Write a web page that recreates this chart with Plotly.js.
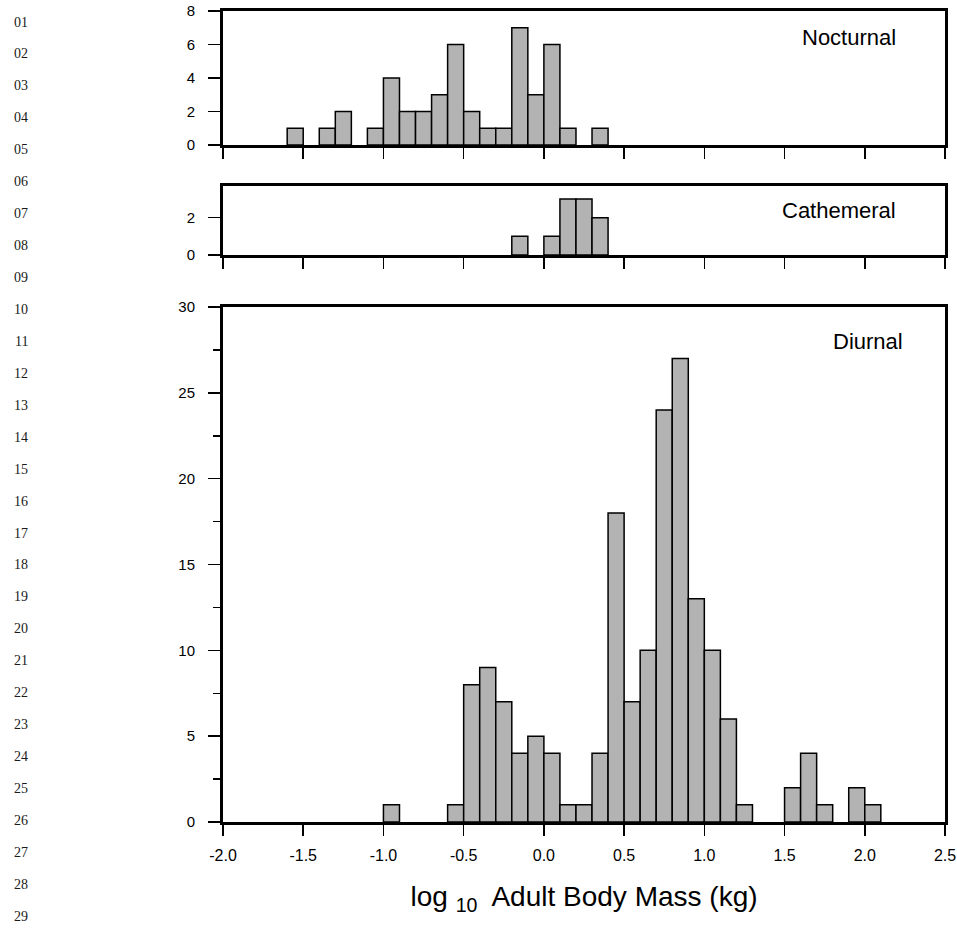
<!DOCTYPE html>
<html>
<head>
<meta charset="utf-8">
<script src="https://cdn.plot.ly/plotly-3.0.1.min.js"></script>
<style>
  html, body { margin: 0; padding: 0; background: #ffffff; }
  #chart { width: 957px; height: 928px; }
</style>
</head>
<body>
<div id="chart"></div>
<script>
// ---- data ----
const binCenters = [-1.55, -1.45, -1.35, -1.25, -1.15, -1.05, -0.95, -0.85, -0.75, -0.65,
                    -0.55, -0.45, -0.35, -0.25, -0.15, -0.05, 0.05, 0.15, 0.25, 0.35,
                    0.45, 0.55, 0.65, 0.75, 0.85, 0.95, 1.05, 1.15, 1.25, 1.35,
                    1.45, 1.55, 1.65, 1.75, 1.85, 1.95, 2.05];
const binWidth = 0.1;

const nocturnalCounts = [1, 0, 1, 2, 0, 1, 4, 2, 2, 3,
                         6, 2, 1, 1, 7, 3, 6, 1, 0, 1,
                         0, 0, 0, 0, 0, 0, 0, 0, 0, 0,
                         0, 0, 0, 0, 0, 0, 0];
const cathemeralCounts = [0, 0, 0, 0, 0, 0, 0, 0, 0, 0,
                          0, 0, 0, 0, 1, 0, 1, 3, 3, 2,
                          0, 0, 0, 0, 0, 0, 0, 0, 0, 0,
                          0, 0, 0, 0, 0, 0, 0];
const diurnalCounts = [0, 0, 0, 0, 0, 0, 1, 0, 0, 0,
                       1, 8, 9, 7, 4, 5, 4, 1, 1, 4,
                       18, 7, 10, 24, 27, 13, 10, 6, 1, 0,
                       0, 2, 4, 1, 0, 2, 1];

const panelNames = ['Nocturnal', 'Cathemeral', 'Diurnal'];
const xTickValues = [-2.0, -1.5, -1.0, -0.5, 0.0, 0.5, 1.0, 1.5, 2.0, 2.5];
const xTickLabels = ['-2.0', '-1.5', '-1.0', '-0.5', '0.0', '0.5', '1.0', '1.5', '2.0', '2.5'];
const nocturnalYTicks = [0, 2, 4, 6, 8];
const cathemeralYTicks = [0, 2];
const diurnalYTicks = [0, 5, 10, 15, 20, 25, 30];
const diurnalMinorYTicks = [2.5, 7.5, 12.5, 17.5, 22.5, 27.5];
const xTitle = 'log <sub>10</sub>  Adult Body Mass (kg)';
const lineNumbers = ['01','02','03','04','05','06','07','08','09','10',
                     '11','12','13','14','15','16','17','18','19','20',
                     '21','22','23','24','25','26','27','28','29'];

// ---- styling / layout ----
const W = 957, H = 928;
const M = {l: 223, r: 12, t: 11, b: 106};
const plotW = W - M.l - M.r;
const plotH = H - M.t - M.b;
const bottomPx = H - M.b;
function py(pxY) { return (bottomPx - pxY) / plotH; }
function px(pxX) { return (pxX - M.l) / plotW; }

const barStyle = {color: '#b3b3b3', line: {color: '#000000', width: 1.5}};
function barTrace(counts, xa, ya) {
  // empty bins are left out so no zero-height outline is drawn
  const xs = [], ys = [];
  counts.forEach((c, i) => { if (c > 0) { xs.push(binCenters[i]); ys.push(c); } });
  return {
    type: 'bar', x: xs, y: ys,
    width: xs.map(() => binWidth),
    marker: barStyle, xaxis: xa, yaxis: ya, hoverinfo: 'x+y'
  };
}

const data = [
  barTrace(diurnalCounts, 'x', 'y'),
  barTrace(cathemeralCounts, 'x2', 'y2'),
  barTrace(nocturnalCounts, 'x3', 'y3')
];

const fontFam = 'Liberation Sans, Arial, Helvetica, sans-serif';
function xAxis(anchor, showLabels) {
  return {
    anchor: anchor, domain: [0, 1], range: [-2, 2.5],
    tickmode: 'array', tickvals: xTickValues, ticktext: xTickLabels,
    ticks: 'outside', ticklen: 11, tickwidth: 1.5, tickcolor: '#000',
    showticklabels: showLabels, ticklabelstandoff: 6,
    showline: true, linewidth: 3, linecolor: '#000', mirror: true,
    showgrid: false, zeroline: false, fixedrange: true,
    tickfont: {family: fontFam, size: 16, color: '#000'}
  };
}
function yAxis(anchor, domain, range, ticks) {
  return {
    anchor: anchor, domain: domain, range: range,
    tickmode: 'array', tickvals: ticks, ticktext: ticks.map(String),
    ticks: 'outside', ticklen: 12, tickwidth: 1.5, tickcolor: '#000',
    ticklabelstandoff: 10,
    showline: true, linewidth: 3, linecolor: '#000', mirror: true,
    showgrid: false, zeroline: false, fixedrange: true,
    tickfont: {family: fontFam, size: 15, color: '#000'}
  };
}

const xa1 = xAxis('y', true);
xa1.title = {text: xTitle, font: {family: fontFam, size: 28, color: '#000'}, standoff: 24};

const ya1 = yAxis('x', [0, py(307)], [0, 30], diurnalYTicks);
ya1.minor = {tickvals: diurnalMinorYTicks, ticks: 'outside', ticklen: 7, tickwidth: 1.5, tickcolor: '#000', showgrid: false};

const annotations = [];
const labelPos = [
  {x: 898, y: 38},
  {x: 898, y: 210},
  {x: 905, y: 342}
];
panelNames.forEach((name, i) => {
  annotations.push({
    text: name, xref: 'paper', yref: 'paper',
    x: px(labelPos[i].x), y: py(labelPos[i].y),
    xanchor: 'right', yanchor: 'middle', showarrow: false,
    font: {family: fontFam, size: 22, color: '#000'}
  });
});
lineNumbers.forEach((t, i) => {
  annotations.push({
    text: t, xref: 'paper', yref: 'paper',
    x: px(21), y: py(22 + i * 31.94),
    xanchor: 'center', yanchor: 'middle', showarrow: false,
    font: {family: 'Liberation Serif, Times New Roman, serif', size: 14, color: '#1a1a1a'}
  });
});

const layout = {
  width: W, height: H, margin: M,
  paper_bgcolor: '#ffffff', plot_bgcolor: '#ffffff',
  showlegend: false, bargap: 0,
  font: {family: fontFam, color: '#000', size: 14},
  xaxis: xa1,
  xaxis2: xAxis('y2', false),
  xaxis3: xAxis('y3', false),
  yaxis: ya1,
  yaxis2: yAxis('x2', [py(255), py(186)], [0, 3.7], cathemeralYTicks),
  yaxis3: yAxis('x3', [py(145), 1], [0, 8], nocturnalYTicks),
  annotations: annotations
};

Plotly.newPlot('chart', data, layout, {displayModeBar: false, staticPlot: true});
</script>
</body>
</html>
